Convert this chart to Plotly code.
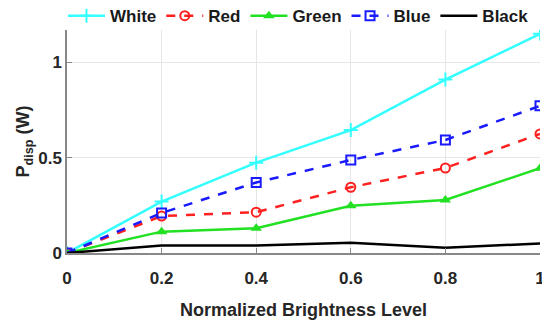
import plotly.graph_objects as go

brightness = [0, 0.2, 0.4, 0.6, 0.8, 1.0]
white = [0, 0.27, 0.474, 0.645, 0.91, 1.15]
red = [0, 0.194, 0.214, 0.345, 0.446, 0.625]
green = [0, 0.112, 0.13, 0.248, 0.278, 0.445]
blue = [0, 0.21, 0.37, 0.488, 0.593, 0.772]
black = [0, 0.04, 0.04, 0.054, 0.028, 0.05]

x_ticks = [0, 0.2, 0.4, 0.6, 0.8, 1]
x_tick_labels = ["0", "0.2", "0.4", "0.6", "0.8", "1"]
y_ticks = [0, 0.5, 1]
y_tick_labels = ["0", "0.5", "1"]

series = [
    ("White", white, "#33ffff", "solid", "cross-thin", dict(size=10, line=dict(width=2, color="#33ffff"))),
    ("Red", red, "#ff2020", "dash", "circle-open", dict(size=9, line=dict(width=2, color="#ff2020"))),
    ("Green", green, "#22e022", "solid", "triangle-up", dict(size=10, line=dict(width=0))),
    ("Blue", blue, "#1a1aff", "dash", "square-open", dict(size=9, line=dict(width=2, color="#1a1aff"))),
    ("Black", black, "#000000", "solid", None, None),
]

fig = go.Figure()
for name, vals, color, dash, sym, mk in series:
    if sym is None:
        fig.add_trace(go.Scatter(x=brightness, y=vals, name=name, mode="lines",
                                 line=dict(color=color, width=2.5, dash=dash)))
    else:
        fig.add_trace(go.Scatter(x=brightness, y=vals, name=name, mode="lines+markers",
                                 line=dict(color=color, width=2.5, dash=dash),
                                 marker=dict(symbol=sym, color=color, **mk)))

fam = "Liberation Sans, Arial, sans-serif"
tick_font = dict(family=fam, size=17, color="#262626", weight="bold")
title_font = dict(family=fam, size=18, color="#262626", weight="bold")
leg_font = dict(family=fam, size=17, color="#1a1a1a", weight="bold")

# page body has an 8px margin, so the figure is 542x316
fig.update_layout(
    width=542, height=316,
    margin=dict(l=59, r=10, t=22, b=71, autoexpand=False),
    paper_bgcolor="white", plot_bgcolor="white",
    font=tick_font,
    showlegend=True,
    legend=dict(orientation="h", x=-0.0085, xanchor="left",
                y=1.062, yanchor="middle",
                font=leg_font, itemwidth=37, tracegroupgap=0,
                bgcolor="rgba(0,0,0,0)", borderwidth=0),
)
fig.update_xaxes(range=[0, 1], tickvals=x_ticks, ticktext=x_tick_labels,
                 showgrid=True, gridcolor="#e6e6e6", gridwidth=1,
                 showline=True, linecolor="#888888", linewidth=1.5,
                 ticks="inside", ticklen=5, tickcolor="#888888",
                 zeroline=False, tickfont=tick_font, automargin=True,
                 ticklabelstandoff=9,
                 title=dict(text="Normalized Brightness Level", font=title_font, standoff=16))
fig.update_yaxes(range=[0, 1.17], tickvals=y_ticks, ticktext=y_tick_labels,
                 showgrid=True, gridcolor="#e6e6e6", gridwidth=1,
                 showline=True, linecolor="#888888", linewidth=1.5,
                 ticks="inside", ticklen=5, tickcolor="#888888",
                 zeroline=False, tickfont=tick_font, automargin=False,
                 title=dict(text="P<sub>disp</sub> (W)", font=title_font, standoff=4))

fig.write_html("out.html")
